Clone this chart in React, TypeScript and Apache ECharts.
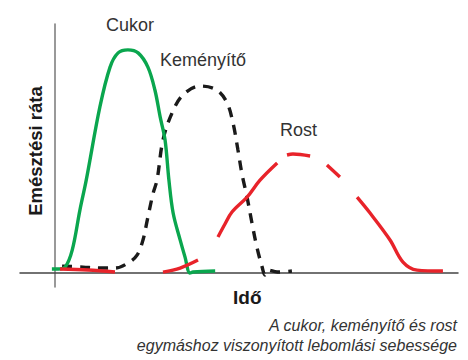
import React, { useEffect, useRef } from "react";
import * as echarts from "echarts";

// Time axis (arbitrary units) and digestion rate (arbitrary units, 0..100)
const cukorX = [-0.9, 0.9, 2.9, 4.9, 7.1, 8.9, 12.8, 15.7, 18.0, 20.8, 23.7, 26.5, 28.5, 30.0, 31.4, 32.5, 33.7, 35.7, 37.1, 38.5, 39.4, 45.7];
const cukorY = [1.6, 1.6, 2.4, 9.2, 25.3, 37.3, 66.7, 82.7, 88.4, 89.6, 88.4, 82.7, 73.5, 62.7, 53.4, 37.3, 24.1, 13.3, 6.4, 0, 0.4, 0.8];

const kemenyitoX = [2.0, 8.0, 12.8, 17.1, 20.8, 23.4, 25.1, 26.5, 28.0, 29.1, 30.8, 33.4, 36.5, 41.4, 46.2, 49.1, 50.8, 52.2, 53.4, 54.8, 56.2, 57.6, 59.1, 59.9, 60.8, 63.4, 67.6];
const kemenyitoY = [2.8, 2.4, 2.0, 2.0, 4.0, 7.2, 13.3, 22.5, 32.1, 37.3, 53.4, 64.3, 71.5, 75.1, 73.5, 68.3, 60.2, 49.4, 39.4, 30.5, 20.1, 10.4, 2.4, -0.8, 1.2, 0.4, 0.8];

// null = gap in the hand-drawn dashed stroke
const rostX = [1.4, 9.4, 17.1, 24.0, 30.8, 35.7, 40.8, 43.6, 46.5, 48.5, 50.5, 54.8, 58.5, 63.4, 64.8, 66.2, 67.9, 72.8, 75.2, 77.6, 81.3, 83.7, 86.2, 89.9, 95.6, 99.3, 103.3, 110.7];
const rostY: (number | null)[] = [1.6, 1.2, 0.4, null, 0.4, 2.0, 5.2, null, 14.5, 19.7, 24.5, 30.5, 37.3, 44.2, null, 47.4, 47.8, 47.0, null, 43.4, 38.6, null, 30.5, 24.1, 13.3, 4.4, 1.2, 0.8];

const seriesNames = ["Cukor", "Keményítő", "Rost"];
const xAxisTitle = "Idő";
const yAxisTitle = "Emésztési ráta";
const captionLines = ["A cukor, keményítő és rost", "egymáshoz viszonyított lebomlási sebessége"];

const toPairs = (xs: number[], ys: (number | null)[]) =>
  xs.map((x, i) => [x, ys[i] === null ? "-" : ys[i]]);

export default function App() {
  const ref = useRef<HTMLDivElement>(null);
  useEffect(() => {
    if (!ref.current) return;
    const chart = echarts.init(ref.current, null, { renderer: "svg" });
    const font = "'Liberation Sans', Arial, Helvetica, sans-serif";
    chart.setOption({
      animation: false,
      backgroundColor: "#ffffff",
      grid: { left: 20, right: 10, top: 24, bottom: 73, containLabel: false },
      xAxis: {
        type: "value",
        min: -10,
        max: 115,
        axisLine: { show: true, onZero: true, lineStyle: { color: "#444", width: 1.5 } },
        axisTick: { show: false },
        axisLabel: { show: false },
        splitLine: { show: false },
      },
      yAxis: {
        type: "value",
        min: -5.6,
        max: 100,
        axisLine: { show: true, onZero: true, lineStyle: { color: "#777", width: 1.5 } },
        axisTick: { show: false },
        axisLabel: { show: false },
        splitLine: { show: false },
      },
      series: [
        {
          name: seriesNames[0],
          type: "line",
          smooth: 0.35,
          symbol: "none",
          data: toPairs(cukorX, cukorY),
          lineStyle: { color: "#0aa64e", width: 3.4 },
          z: 3,
        },
        {
          name: seriesNames[1],
          type: "line",
          smooth: 0.35,
          symbol: "none",
          data: toPairs(kemenyitoX, kemenyitoY),
          lineStyle: { color: "#1a1a1a", width: 3.4, type: [10, 8] },
          z: 2,
        },
        {
          name: seriesNames[2],
          type: "line",
          smooth: 0.35,
          symbol: "none",
          connectNulls: false,
          data: toPairs(rostX, rostY),
          lineStyle: { color: "#e8232a", width: 3.4 },
          z: 4,
        },
      ],
      graphic: [
        { type: "text", x: 130, y: 25, style: { text: seriesNames[0], font: `18px ${font}`, fill: "#333", align: "center", verticalAlign: "middle" } },
        { type: "text", x: 160, y: 60, style: { text: seriesNames[1], font: `18px ${font}`, fill: "#333", align: "left", verticalAlign: "middle" } },
        { type: "text", x: 280, y: 130, style: { text: seriesNames[2], font: `18px ${font}`, fill: "#333", align: "left", verticalAlign: "middle" } },
        { type: "text", x: 233, y: 297, style: { text: xAxisTitle, font: `bold 19px ${font}`, fill: "#1a1a1a", align: "left", verticalAlign: "middle" } },
        { type: "text", x: 35, y: 151, rotation: Math.PI / 2, style: { text: yAxisTitle, font: `bold 18.5px ${font}`, fill: "#1a1a1a", align: "center", verticalAlign: "middle" } },
        { type: "text", x: 457, y: 325, style: { text: captionLines[0], font: `italic 16px ${font}`, fill: "#333", align: "right", verticalAlign: "middle" } },
        { type: "text", x: 457, y: 345, style: { text: captionLines[1], font: `italic 16px ${font}`, fill: "#333", align: "right", verticalAlign: "middle" } },
      ],
    });
    return () => chart.dispose();
  }, []);
  return <div ref={ref} style={{ width: 468, height: 360, position: "absolute", left: 0, top: 0 }} />;
}
